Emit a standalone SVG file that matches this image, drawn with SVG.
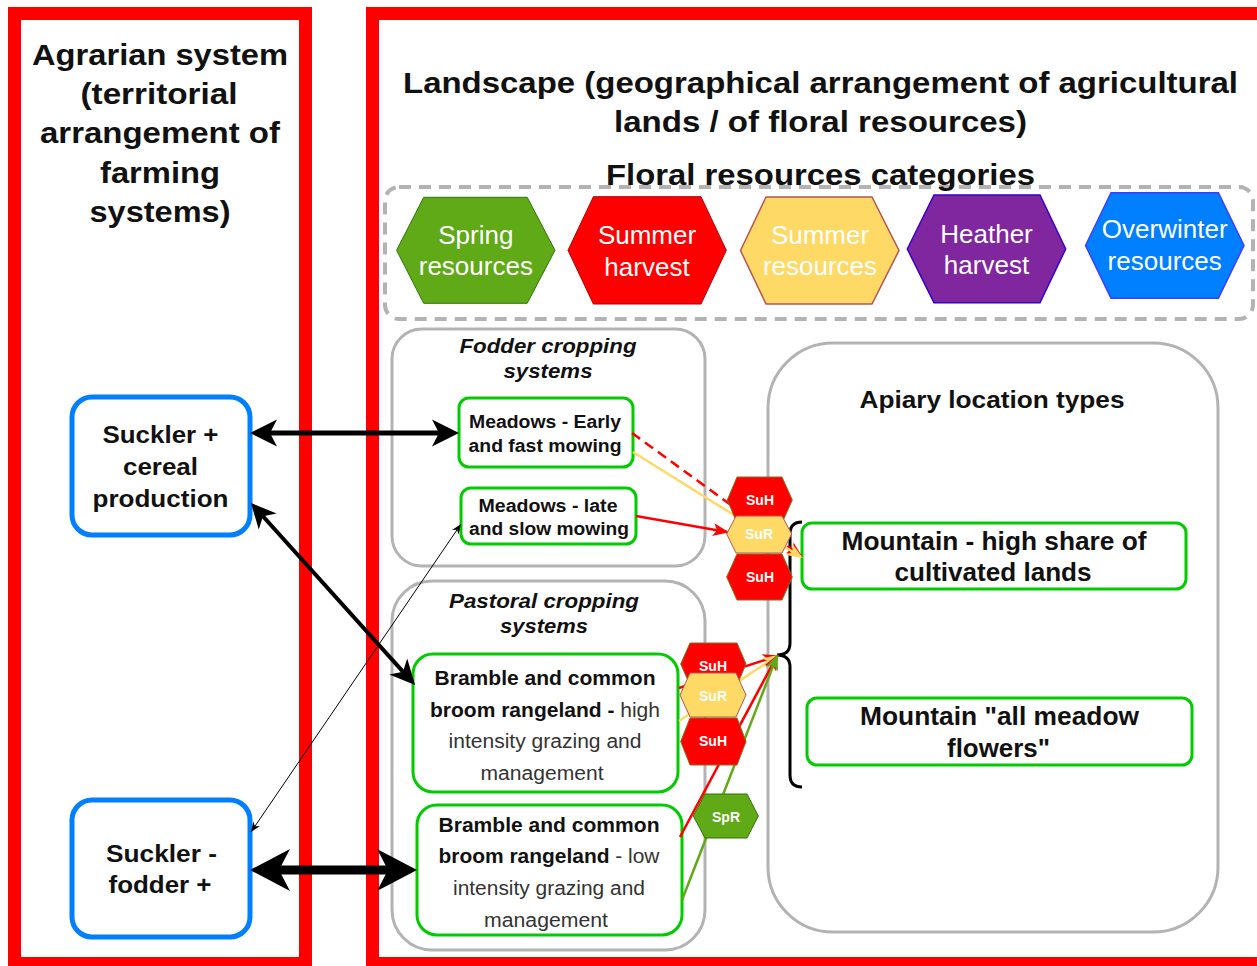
<svg xmlns="http://www.w3.org/2000/svg" width="1257" height="966" viewBox="0 0 1257 966">
<style>
text{font-family:"Liberation Sans",Arial,Helvetica,sans-serif;text-anchor:middle;fill:#111}
.b{font-weight:bold}
.i{font-style:italic}
.frame{fill:none;stroke:#FF0000;stroke-width:13}
.grp{fill:#fff;stroke:#B3B3B3;stroke-width:3}
.dash{fill:none;stroke:#B3B3B3;stroke-width:4;stroke-dasharray:12 8}
.gbox{fill:#fff;stroke:#00CC00;stroke-width:3}
.bbox{fill:#fff;stroke:#007FFF;stroke-width:5}
.hexT{fill:#fff;font-size:26px}
.sm{fill:#fff;font-size:14px;font-weight:bold}
.reg{font-weight:normal;fill:#333}
.blk{fill:none;stroke:#000}
.red{fill:none;stroke:#FF0000;stroke-width:2.5}
.yel{fill:none;stroke:#FFD966;stroke-width:2.5}
.grn{fill:none;stroke:#60A917;stroke-width:2.5}
.suh{fill:#FF0000;stroke:#8A6A22;stroke-width:1}
.sur{fill:#FFD966;stroke:#B85450;stroke-width:1}
.spr{fill:#60A917;stroke:#2D7600;stroke-width:1}
</style>
<defs>
<marker id="mK1" markerUnits="userSpaceOnUse" markerWidth="28" markerHeight="28" refX="21" refY="13.5" orient="auto-start-reverse" overflow="visible"><path d="M0,0 L27,13.5 L0,27 L7,13.5 Z" fill="#000"/></marker>
<marker id="mK2" markerUnits="userSpaceOnUse" markerWidth="26" markerHeight="26" refX="20" refY="12" orient="auto-start-reverse" overflow="visible"><path d="M0,0 L25,12 L0,24 L7,12 Z" fill="#000"/></marker>
<marker id="mK3" markerUnits="userSpaceOnUse" markerWidth="11" markerHeight="9" refX="10" refY="4" orient="auto-start-reverse" overflow="visible"><path d="M0,0 L10,4 L0,8 L3,4 Z" fill="#000"/></marker>
<marker id="mK4" markerUnits="userSpaceOnUse" markerWidth="41" markerHeight="43" refX="30" refY="21" orient="auto-start-reverse" overflow="visible"><path d="M0,0 L40,21 L0,42 L11,21 Z" fill="#000"/></marker>
<marker id="mR" markerUnits="userSpaceOnUse" markerWidth="17" markerHeight="14" refX="14" refY="6.5" orient="auto" overflow="visible"><path d="M0,0 L16,6.5 L0,13 L4,6.5 Z" fill="#FF0000"/></marker>
<marker id="mY" markerUnits="userSpaceOnUse" markerWidth="17" markerHeight="14" refX="14" refY="6.5" orient="auto" overflow="visible"><path d="M0,0 L16,6.5 L0,13 L4,6.5 Z" fill="#FFD966"/></marker>
<marker id="mG" markerUnits="userSpaceOnUse" markerWidth="17" markerHeight="14" refX="14" refY="6.5" orient="auto" overflow="visible"><path d="M0,0 L16,6.5 L0,13 L4,6.5 Z" fill="#60A917"/></marker>
</defs>
<rect x="0" y="0" width="1257" height="966" fill="#fff"/>

<g id="agrarian-frame">
<rect class="frame" x="14.5" y="13.5" width="291" height="950"/>
<text class="b" font-size="30" x="160" y="65" textLength="256" lengthAdjust="spacingAndGlyphs">Agrarian system</text>
<text class="b" font-size="30" x="159" y="104" textLength="157" lengthAdjust="spacingAndGlyphs">(territorial</text>
<text class="b" font-size="30" x="160" y="143" textLength="240" lengthAdjust="spacingAndGlyphs">arrangement of</text>
<text class="b" font-size="30" x="160" y="183" textLength="120" lengthAdjust="spacingAndGlyphs">farming</text>
<text class="b" font-size="30" x="160" y="222" textLength="141" lengthAdjust="spacingAndGlyphs">systems)</text>
</g>

<g id="landscape-frame">
<rect class="frame" x="372.5" y="13.5" width="1000" height="950"/>
<text class="b" font-size="30" x="820.5" y="93" textLength="835" lengthAdjust="spacingAndGlyphs">Landscape (geographical arrangement of agricultural</text>
<text class="b" font-size="30" x="820.5" y="132" textLength="413" lengthAdjust="spacingAndGlyphs">lands / of floral resources)</text>
</g>

<g id="floral-categories">
<rect class="dash" x="385" y="187" width="868" height="132" rx="14"/>
<text class="b" font-size="30" x="820.5" y="185" textLength="429" lengthAdjust="spacingAndGlyphs">Floral resources categories</text>
</g>

<g id="hex-spring">
<polygon points="396.6,250.3 423.7,197.3 527.2,197.3 555,250.3 527.2,303.3 423.7,303.3" fill="#60A917" stroke="#2D7600" stroke-width="1"/>
<text class="hexT" x="475.8" y="244">Spring</text>
<text class="hexT" x="475.8" y="275">resources</text>
</g>
<g id="hex-summer-harvest">
<polygon points="568,250.3 593.4,196.7 701,196.7 726.3,250.3 701,304 593.4,304" fill="#FF0000" stroke="#B20000" stroke-width="1"/>
<text class="hexT" x="647" y="244">Summer</text>
<text class="hexT" x="647" y="276">harvest</text>
</g>
<g id="hex-summer-resources">
<polygon points="740.5,250.5 766,197 872,197 899,250.5 872,304 766,304" fill="#FFD966" stroke="#B85450" stroke-width="1.5"/>
<text class="hexT" x="820" y="244">Summer</text>
<text class="hexT" x="820" y="275">resources</text>
</g>
<g id="hex-heather">
<polygon points="907.3,249 934,195 1040,195 1065.7,249 1040,302.7 934,302.7" fill="#80269F" stroke="#3700CC" stroke-width="1.5"/>
<text class="hexT" x="986.5" y="243">Heather</text>
<text class="hexT" x="986.5" y="274">harvest</text>
</g>
<g id="hex-overwinter">
<polygon points="1085.5,245.5 1111,192.7 1218.4,192.7 1244,245.5 1218.4,298.3 1111,298.3" fill="#007FFF" stroke="#3D3DFF" stroke-width="1.5"/>
<text class="hexT" x="1164.7" y="238">Overwinter</text>
<text class="hexT" x="1164.7" y="270">resources</text>
</g>

<g id="fodder-systems">
<rect class="grp" x="392" y="329" width="313" height="237" rx="30"/>
<text class="b i" font-size="20" x="548" y="353" textLength="177" lengthAdjust="spacingAndGlyphs">Fodder cropping</text>
<text class="b i" font-size="20" x="548" y="378" textLength="89" lengthAdjust="spacingAndGlyphs">systems</text>
</g>
<g id="pastoral-systems">
<rect class="grp" x="392" y="581" width="313" height="369" rx="40"/>
<text class="b i" font-size="20" x="544" y="608" textLength="190" lengthAdjust="spacingAndGlyphs">Pastoral cropping</text>
<text class="b i" font-size="20" x="544" y="633" textLength="88" lengthAdjust="spacingAndGlyphs">systems</text>
</g>
<g id="apiary-types">
<rect class="grp" x="768" y="343" width="450" height="589" rx="65"/>
<text class="b" font-size="23" x="992" y="408" textLength="265" lengthAdjust="spacingAndGlyphs">Apiary location types</text>
</g>

<g id="meadows-early">
<rect class="gbox" x="459" y="398" width="174" height="69" rx="10"/>
<text class="b" font-size="18" x="545" y="428" textLength="152" lengthAdjust="spacingAndGlyphs">Meadows - Early</text>
<text class="b" font-size="18" x="545" y="452" textLength="153" lengthAdjust="spacingAndGlyphs">and fast mowing</text>
</g>
<g id="meadows-late">
<rect class="gbox" x="461" y="488" width="175" height="56" rx="10"/>
<text class="b" font-size="18" x="548" y="512" textLength="139" lengthAdjust="spacingAndGlyphs">Meadows - late</text>
<text class="b" font-size="18" x="549" y="535" textLength="160" lengthAdjust="spacingAndGlyphs">and slow mowing</text>
</g>
<g id="bramble-high">
<rect class="gbox" x="413" y="654" width="265" height="138" rx="20"/>
<text class="b" font-size="20" x="545" y="685" textLength="221" lengthAdjust="spacingAndGlyphs">Bramble and common</text>
<text class="b" font-size="20" x="545" y="717" textLength="230" lengthAdjust="spacingAndGlyphs">broom rangeland -<tspan class="reg"> high</tspan></text>
<text class="reg" font-size="20" x="545" y="748" textLength="193" lengthAdjust="spacingAndGlyphs">intensity grazing and</text>
<text class="reg" font-size="20" x="542" y="780" textLength="123" lengthAdjust="spacingAndGlyphs">management</text>
</g>
<g id="bramble-low">
<rect class="gbox" x="417" y="805" width="265" height="130" rx="20"/>
<text class="b" font-size="20" x="549" y="832" textLength="221" lengthAdjust="spacingAndGlyphs">Bramble and common</text>
<text class="b" font-size="20" x="549" y="863" textLength="221" lengthAdjust="spacingAndGlyphs">broom rangeland<tspan class="reg"> - low</tspan></text>
<text class="reg" font-size="20" x="549" y="895" textLength="192" lengthAdjust="spacingAndGlyphs">intensity grazing and</text>
<text class="reg" font-size="20" x="546" y="927" textLength="124" lengthAdjust="spacingAndGlyphs">management</text>
</g>
<g id="mountain-cultivated">
<rect class="gbox" x="802" y="523" width="384" height="66" rx="10"/>
<text class="b" font-size="26" x="994" y="550" textLength="305" lengthAdjust="spacingAndGlyphs">Mountain - high share of</text>
<text class="b" font-size="26" x="993" y="581" textLength="197" lengthAdjust="spacingAndGlyphs">cultivated lands</text>
</g>
<g id="mountain-meadow">
<rect class="gbox" x="807" y="698" width="385" height="67" rx="10"/>
<text class="b" font-size="26" x="999.5" y="725" textLength="279" lengthAdjust="spacingAndGlyphs">Mountain "all meadow</text>
<text class="b" font-size="26" x="998.5" y="757" textLength="103" lengthAdjust="spacingAndGlyphs">flowers"</text>
</g>

<g id="suckler-cereal">
<rect class="bbox" x="72" y="397" width="178" height="138" rx="20"/>
<text class="b" font-size="24" x="160.5" y="443" textLength="116" lengthAdjust="spacingAndGlyphs">Suckler +</text>
<text class="b" font-size="24" x="160.5" y="475" textLength="75" lengthAdjust="spacingAndGlyphs">cereal</text>
<text class="b" font-size="24" x="160.5" y="507" textLength="136" lengthAdjust="spacingAndGlyphs">production</text>
</g>
<g id="suckler-fodder">
<rect class="bbox" x="72" y="800" width="178" height="137" rx="20"/>
<text class="b" font-size="24" x="161.5" y="862" textLength="111" lengthAdjust="spacingAndGlyphs">Suckler -</text>
<text class="b" font-size="24" x="160" y="893" textLength="103" lengthAdjust="spacingAndGlyphs">fodder +</text>
</g>

<g id="connectors">
<path d="M802,522 Q790,522 790,534 L790,643 Q790,655 777,655 Q790,655 790,667 L790,775 Q790,787 802,787" fill="none" stroke="#000" stroke-width="3"/>
<path class="red" d="M632,433 L801,556" stroke-width="3" stroke-dasharray="10 6" marker-end="url(#mR)"/>
<path class="yel" d="M633,452 L801,557" marker-end="url(#mY)"/>
<path class="red" d="M636,516 L727,532" marker-end="url(#mR)"/>
<path class="red" d="M679,688 L777,656" marker-end="url(#mR)"/>
<path class="yel" d="M679,721 L777,656" marker-end="url(#mY)"/>
<path class="red" d="M680,837 L777,656" marker-end="url(#mR)"/>
<path class="grn" d="M682,900 L777,656" marker-end="url(#mG)"/>
<path class="blk" d="M256,433 L453,433" stroke-width="5" marker-start="url(#mK1)" marker-end="url(#mK1)"/>
<path class="blk" d="M254.3,506.7 L411.7,681.3" stroke-width="4" marker-start="url(#mK2)" marker-end="url(#mK2)"/>
<path class="blk" d="M251,832 L461,524" stroke-width="1" marker-start="url(#mK3)" marker-end="url(#mK3)"/>
<path class="blk" d="M260,870 L407,870" stroke-width="9" marker-start="url(#mK4)" marker-end="url(#mK4)"/>
</g>

<g id="hex-suh-1"><polygon class="suh" points="727.3,500 737,477 782,477 792.3,500 782,523 737,523"/><text class="sm" x="760" y="505">SuH</text></g>
<g id="hex-sur-1"><polygon class="sur" points="726.7,534 736,516 782,516 791.7,534 782,553 736,553"/><text class="sm" x="759" y="539">SuR</text></g>
<g id="hex-suh-2"><polygon class="suh" points="726.7,577 737,554 782,554 792.3,577 782,600 737,600"/><text class="sm" x="760" y="582">SuH</text></g>
<g id="hex-suh-3"><polygon class="suh" points="680.7,664 690,643 737,643 746,664 737,685 690,685"/><text class="sm" x="713" y="671">SuH</text></g>
<g id="hex-sur-2"><polygon class="sur" points="680,695 690,673 736,673 746,695 736,717 690,717"/><text class="sm" x="713" y="701">SuR</text></g>
<g id="hex-suh-4"><polygon class="suh" points="680.7,741.5 690,718 737,718 746,741.5 737,765 690,765"/><text class="sm" x="713" y="746">SuH</text></g>
<g id="hex-spr"><polygon class="spr" points="693.3,816 705,794 747,794 758.3,816 747,838 705,838"/><text class="sm" x="726" y="822">SpR</text></g>
</svg>
